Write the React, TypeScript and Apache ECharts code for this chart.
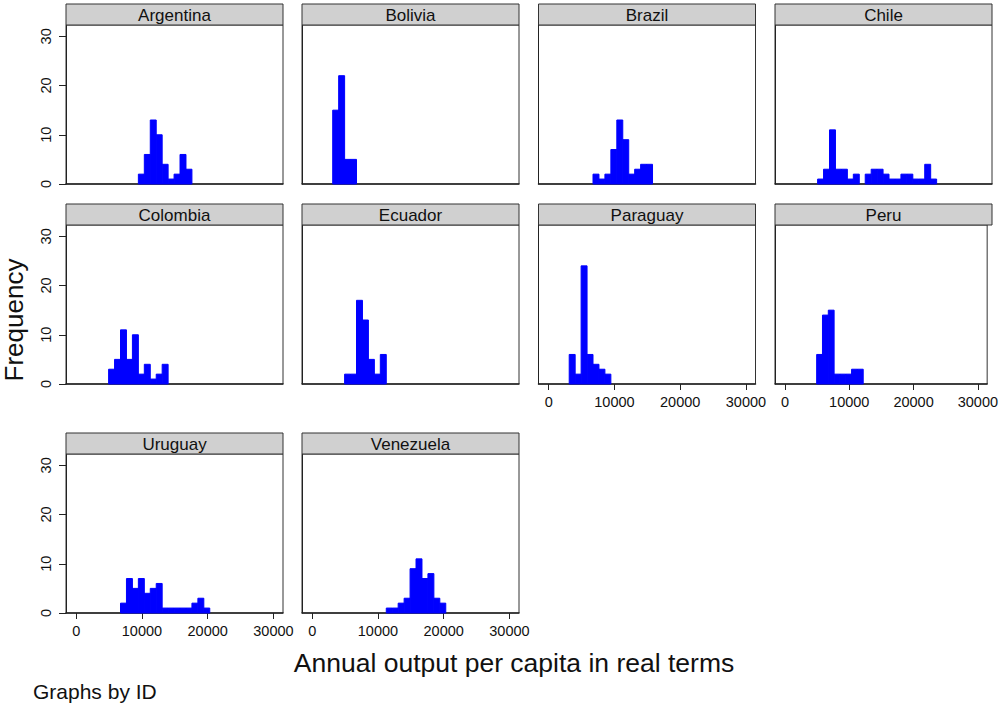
import React, { useEffect, useRef } from "react";
import * as echarts from "echarts";

// ---- data ----
const countries = ["Argentina", "Bolivia", "Brazil", "Chile", "Colombia", "Ecuador", "Paraguay", "Peru", "Uruguay", "Venezuela"];
const binOrigin = 3120;
const binWidth = 905;
const startBins = [7, 0, 4, 2, 2, 2, 0, 2, 4, 9];
const argentina = [2, 6, 13, 10, 4, 1, 2, 6, 3];
const bolivia = [15, 22, 5, 5];
const brazil = [2, 1, 2, 7, 13, 9, 2, 3, 4, 4];
const chile = [1, 3, 11, 3, 3, 1, 2, 0, 2, 3, 3, 2, 1, 1, 2, 2, 1, 1, 4, 1];
const colombia = [3, 5, 11, 5, 10, 2, 4, 1, 2, 4];
const ecuador = [2, 2, 17, 13, 5, 2, 6];
const paraguay = [6, 2, 24, 6, 4, 3, 2];
const peru = [6, 14, 15, 2, 2, 2, 3, 3];
const uruguay = [2, 7, 5, 7, 4, 5, 6, 1, 1, 1, 1, 1, 2, 3, 1];
const venezuela = [1, 1, 2, 3, 9, 11, 7, 8, 3, 2];
const countsList = [argentina, bolivia, brazil, chile, colombia, ecuador, paraguay, peru, uruguay, venezuela];
const yTicks = [0, 10, 20, 30];
const xTicks = [0, 10000, 20000, 30000];
const yMax = 32.3;
const xMin = -1550;
const xMax = 31450;

// ---- layout ----
const colLeft = [66, 302, 538.5, 775];
const rowTop = [25, 225, 454];
const plotW = 217;
const plotH = 159;
const headH = 21;
const FONT = "'Liberation Sans', Arial, Helvetica, sans-serif";

// which panels show labels
const showY = [true, false, false, false, true, false, false, false, true, false];
const showX = [false, false, false, false, false, false, true, true, true, true];

export default function App() {
  const ref = useRef<HTMLDivElement>(null);
  useEffect(() => {
    if (!ref.current) return;
    const chart = echarts.init(ref.current, undefined, { renderer: "svg" });
    const grids: any[] = [];
    const xAxes: any[] = [];
    const yAxes: any[] = [];
    const series: any[] = [];
    const graphic: any[] = [];
    countries.forEach((name, i) => {
      const r = Math.floor(i / 4);
      const c = i % 4;
      const left = colLeft[c];
      const top = rowTop[r];
      grids.push({
        left, top, width: plotW, height: plotH,
        show: true, borderColor: "#333", borderWidth: 1, backgroundColor: "#fff",
      });
      xAxes.push({
        type: "value", gridIndex: i, min: xMin, max: xMax,
        splitLine: { show: false },
        axisLine: { show: true, onZero: false, lineStyle: { color: "#222", width: 1.5 } },
        axisTick: { show: showX[i], length: 6, lineStyle: { color: "#222" }, customValues: xTicks },
        axisLabel: {
          show: showX[i], customValues: xTicks, margin: 10,
          fontSize: 14.5, color: "#111", fontFamily: FONT,
          formatter: (v: number) => String(v),
        },
      });
      yAxes.push({
        type: "value", gridIndex: i, min: 0, max: yMax,
        splitLine: { show: false },
        axisLine: { show: true, onZero: false, lineStyle: { color: "#222", width: 1 } },
        axisTick: { show: showY[i], length: 7, lineStyle: { color: "#222" }, customValues: yTicks },
        axisLabel: {
          show: showY[i], customValues: yTicks, rotate: 90, margin: 13,
          fontSize: 14.5, color: "#111", fontFamily: FONT,
          formatter: (v: number) => String(v),
        },
      });
      const counts = countsList[i];
      const data = counts
        .map((v, k) => {
          const x0 = binOrigin + (startBins[i] + k) * binWidth;
          return [x0, x0 + binWidth, v];
        })
        .filter((d) => d[2] > 0);
      series.push({
        type: "custom",
        xAxisIndex: i,
        yAxisIndex: i,
        data,
        encode: { x: [0, 1], y: 2 },
        renderItem: (params: any, api: any) => {
          const p0 = api.coord([api.value(0), api.value(2)]);
          const p1 = api.coord([api.value(1), 0]);
          return {
            type: "rect",
            shape: { x: p0[0], y: p0[1], width: p1[0] - p0[0], height: p1[1] - p0[1] },
            style: { fill: "#0000ff", stroke: "#0000ff", lineWidth: 1 },
          };
        },
      });
      graphic.push({
        type: "rect",
        shape: { x: left, y: top - headH, width: plotW, height: headH },
        style: { fill: "#d0d0d0", stroke: "#333", lineWidth: 1 },
        z: 10,
      });
      graphic.push({
        type: "text",
        x: left + plotW / 2,
        y: top - headH / 2 + 0.5,
        style: {
          text: name, fill: "#111", font: `17px ${FONT}`,
          textAlign: "center", textVerticalAlign: "middle",
        },
        z: 11,
      });
    });
    graphic.push({
      type: "text", x: 14, y: 320, rotation: Math.PI / 2,
      style: { text: "Frequency", fill: "#111", font: `26px ${FONT}`, textAlign: "center", textVerticalAlign: "middle" },
    });
    graphic.push({
      type: "text", x: 514, y: 663,
      style: { text: "Annual output per capita in real terms", fill: "#111", font: `26.5px ${FONT}`, textAlign: "center", textVerticalAlign: "middle" },
    });
    graphic.push({
      type: "text", x: 33, y: 691,
      style: { text: "Graphs by ID", fill: "#111", font: `21px ${FONT}`, textAlign: "left", textVerticalAlign: "middle" },
    });
    chart.setOption({
      animation: false,
      backgroundColor: "#fff",
      grid: grids,
      xAxis: xAxes,
      yAxis: yAxes,
      series,
      graphic,
    });
    return () => chart.dispose();
  }, []);
  return (
    <div
      ref={ref}
      style={{ position: "fixed", left: 0, top: 0, width: 1001, height: 705, background: "#fff" }}
    />
  );
}
